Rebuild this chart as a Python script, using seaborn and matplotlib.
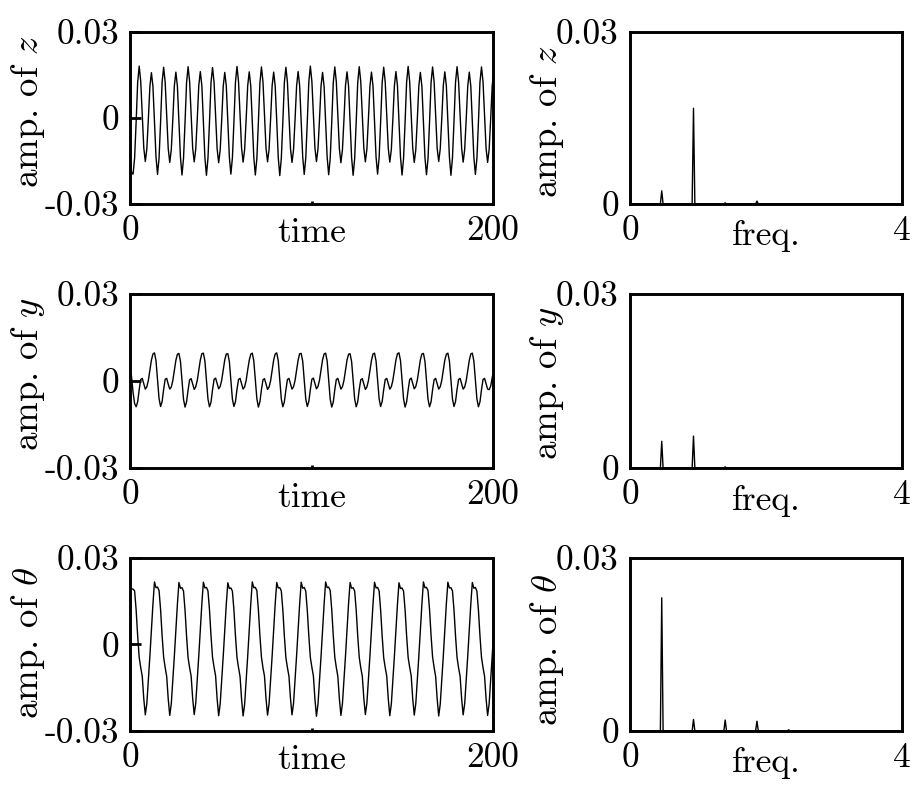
import numpy as np
import matplotlib
matplotlib.use('Agg')
import matplotlib.pyplot as plt
import seaborn as sns

# sampling step of the time series (16 samples per slow period)
dt = 0.842

# amplitudes, in units of 1e-4
z_amp = [
    -150, -190, -196, -140, -14, 124,
    181, 128, 9, -104, -152, -108, -3, 110, 158, 110, -11, -136, -197, -140, -13, 125,
    177, 125, 7, -107, -155, -111, -5, 112, 160, 111, -9, -137, -199, -142, -15, 123,
    179, 127, 8, -105, -153, -109, -4, 113, 162, 113, -10, -138, -200, -141, -14, 124,
    176, 124, 6, -107, -156, -112, -6, 111, 159, 112, -11, -136, -196, -139, -13, 125,
    180, 127, 9, -105, -154, -110, -4, 112, 161, 112, -10, -137, -199, -142, -15, 122,
    178, 126, 8, -106, -153, -109, -3, 113, 160, 111, -9, -138, -201, -141, -14, 124,
    177, 125, 7, -106, -155, -111, -5, 111, 162, 113, -10, -136, -197, -140, -13, 125,
    181, 128, 9, -104, -152, -108, -4, 112, 159, 110, -11, -137, -198, -141, -14, 123,
    178, 126, 8, -107, -156, -111, -5, 113, 161, 112, -10, -138, -200, -142, -15, 124,
    179, 126, 8, -105, -153, -109, -3, 111, 160, 111, -9, -136, -196, -139, -13, 124,
    177, 125, 7, -106, -154, -110, -4, 112, 162, 113, -10, -137, -199, -141, -14, 125,
    180, 127, 9, -105, -155, -111, -5, 112, 159, 110, -11, -138, -198, -142, -15, 123,
    178, 126, 8, -106, -152, -108, -3, 113, 161, 112, -10, -136, -200, -140, -13, 124,
    179, 127, 8, -105, -154, -110, -4, 111, 160, 111, -9, -137, -197, -141, -14, 125,
    178, 126, 8, -106, -155, -110, -4, 112, 160,
]

y_amp = [
    45, 15, -40, -78, -89, -72, -30, 5, 9, -10, -28, -20, 2, 38, 72, 93,
    97, 70, 5, -61, -88, -71, -29, 6, 9, -11, -28, -21, 1, 37, 71, 92,
    95, 68, 3, -63, -90, -72, -31, 4, 8, -10, -29, -20, 2, 38, 72, 94,
    96, 69, 4, -62, -89, -73, -30, 5, 10, -9, -27, -19, 3, 39, 73, 93,
    94, 67, 3, -63, -88, -71, -29, 5, 9, -10, -28, -20, 2, 38, 71, 92,
    96, 69, 4, -61, -90, -72, -30, 4, 8, -11, -29, -21, 1, 37, 72, 93,
    97, 70, 5, -62, -89, -72, -31, 5, 9, -10, -28, -20, 2, 38, 72, 94,
    95, 68, 4, -62, -88, -71, -30, 6, 10, -9, -27, -19, 3, 39, 73, 93,
    96, 69, 4, -63, -90, -73, -30, 5, 9, -10, -28, -20, 2, 38, 72, 92,
    94, 67, 3, -62, -89, -72, -29, 4, 8, -11, -29, -21, 1, 37, 71, 93,
    96, 69, 4, -61, -88, -71, -30, 5, 9, -10, -28, -20, 2, 38, 72, 94,
    97, 70, 5, -62, -90, -72, -31, 5, 10, -9, -27, -19, 3, 39, 73, 93,
    95, 68, 4, -63, -89, -72, -30, 4, 9, -10, -28, -20, 2, 38, 72, 92,
    96, 69, 4, -62, -88, -71, -29, 5, 9, -10, -28, -21, 1, 37, 71, 93,
    96, 69, 4, -62, -89, -72, -30, 5, 9, -10, -28, -30, -18, 10, 40,
]

theta_amp = [
    190, 193, 192, 186, 120, 30, -45, -80, -110, -188, -244, -205, -125, -40, 50, 140,
    217, 197, 199, 187, 121, 31, -44, -80, -111, -189, -246, -206, -126, -41, 49, 139,
    215, 195, 197, 185, 119, 29, -46, -81, -110, -187, -243, -204, -124, -39, 51, 141,
    216, 196, 198, 186, 120, 30, -45, -79, -109, -188, -247, -206, -125, -40, 50, 140,
    214, 194, 196, 185, 119, 30, -45, -80, -111, -190, -248, -207, -126, -41, 49, 139,
    217, 197, 198, 187, 121, 31, -44, -81, -110, -188, -245, -205, -125, -40, 50, 141,
    215, 196, 197, 186, 120, 29, -46, -80, -110, -187, -244, -204, -124, -39, 51, 140,
    216, 195, 198, 185, 119, 30, -45, -79, -109, -189, -249, -207, -126, -41, 49, 139,
    217, 197, 199, 187, 121, 31, -44, -80, -111, -188, -246, -205, -125, -40, 50, 141,
    215, 195, 197, 185, 120, 30, -45, -81, -110, -187, -243, -204, -124, -39, 51, 140,
    216, 196, 198, 186, 119, 29, -46, -80, -110, -189, -247, -206, -126, -41, 49, 139,
    214, 194, 196, 185, 120, 30, -45, -79, -109, -188, -245, -205, -125, -40, 50, 140,
    217, 197, 198, 187, 121, 31, -44, -80, -111, -189, -248, -207, -126, -41, 49, 141,
    216, 196, 197, 186, 120, 30, -45, -81, -110, -188, -244, -205, -125, -40, 50, 140,
    215, 195, 198, 185, 119, 30, -45, -80, -110, -188, -246, -206, -125, -40, 50,
]

# amplitude spectra (freq in rad/unit time)
z_freq = [0, 0.447, 0.467, 0.487, 0.914, 0.934, 0.954, 1.38, 1.40, 1.42,
          1.847, 1.867, 1.887, 4.0]
z_spec = [0, 0, 0.0023, 0, 0, 0.0167, 0, 0, 0.0002, 0, 0, 0.0005, 0, 0]

y_freq = [0, 0.447, 0.467, 0.487, 0.914, 0.934, 0.954, 1.38, 1.40, 1.42, 4.0]
y_spec = [0, 0, 0.0046, 0, 0, 0.0055, 0, 0, 0.0002, 0, 0]

theta_freq = [0, 0.447, 0.467, 0.487, 0.914, 0.934, 0.954, 1.38, 1.40, 1.42,
              1.847, 1.867, 1.887, 2.314, 2.334, 2.354, 4.0]
theta_spec = [0, 0, 0.0231, 0, 0, 0.0020, 0, 0, 0.0019, 0, 0, 0.0017, 0, 0,
              0.0002, 0, 0]

names = ['z', 'y', r'\theta']
series = [z_amp, y_amp, theta_amp]
freqs = [z_freq, y_freq, theta_freq]
spectra = [z_spec, y_spec, theta_spec]

sns.set_theme(style='white', rc={'text.color': 'black', 'axes.labelcolor': 'black',
                                 'xtick.color': 'black', 'ytick.color': 'black',
                                 'axes.edgecolor': 'black'})
plt.rcParams['font.family'] = 'serif'
plt.rcParams['font.serif'] = ['cmr10']
plt.rcParams['mathtext.fontset'] = 'cm'
plt.rcParams['axes.unicode_minus'] = False

fig = plt.figure(figsize=(9.15, 7.86), dpi=100)

row_y0 = [0.7405, 0.4046, 0.0700]
row_h = [0.2188, 0.2214, 0.2201]
left_label_y = [0.54, 0.54, 0.51]
right_label_y = [0.48, 0.49, 0.47]
tick_fs = 25.5
label_fs = 26.5

for i in range(3):
    amp = np.array(series[i]) * 1e-4
    time = dt * np.arange(len(amp))

    # time series
    ax = fig.add_axes([0.1421, row_y0[i], 0.3967, row_h[i]])
    sns.lineplot(x=time, y=amp, ax=ax, color='black', linewidth=1.0,
                 estimator=None, sort=False)
    ax.set_xlim(0, 200)
    ax.set_ylim(-0.03, 0.03)
    ax.set_xticks([0, 100, 200])
    ax.set_xticklabels(['0', '', '200'])
    ax.set_yticks([-0.03, 0, 0.03])
    ax.set_yticklabels(['-0.03', '0', '0.03'])
    ax.tick_params(axis='both', direction='in', labelsize=tick_fs, pad=8,
                   width=2, bottom=True, left=True)
    ax.tick_params(axis='y', length=8)
    ax.tick_params(axis='x', length=2.5)
    ax.set_xlabel('time', fontsize=tick_fs)
    ax.xaxis.set_label_coords(0.5, -0.08)
    ax.set_ylabel(f'amp. of ${names[i]}$', fontsize=label_fs)
    ax.yaxis.set_label_coords(-0.228, left_label_y[i])
    for sp in ax.spines.values():
        sp.set_linewidth(2.1)

    # spectrum
    ax2 = fig.add_axes([0.6885, row_y0[i], 0.2973, row_h[i]])
    sns.lineplot(x=freqs[i], y=spectra[i], ax=ax2, color='black', linewidth=1.0,
                 estimator=None, sort=False)
    ax2.set_xlim(0, 4)
    ax2.set_ylim(0, 0.03)
    ax2.set_xticks([0, 4])
    ax2.set_xticklabels(['0', '4'])
    ax2.set_yticks([0, 0.03])
    ax2.set_yticklabels(['0', '0.03'])
    ax2.tick_params(axis='both', direction='in', labelsize=tick_fs, pad=8,
                    length=0, bottom=True, left=True)
    ax2.set_xlabel('freq.', fontsize=tick_fs)
    ax2.xaxis.set_label_coords(0.5, -0.095)
    ax2.set_ylabel(f'amp. of ${names[i]}$', fontsize=label_fs)
    ax2.yaxis.set_label_coords(-0.236, right_label_y[i])
    for sp in ax2.spines.values():
        sp.set_linewidth(2.1)

fig.savefig('out.png', dpi=100)
